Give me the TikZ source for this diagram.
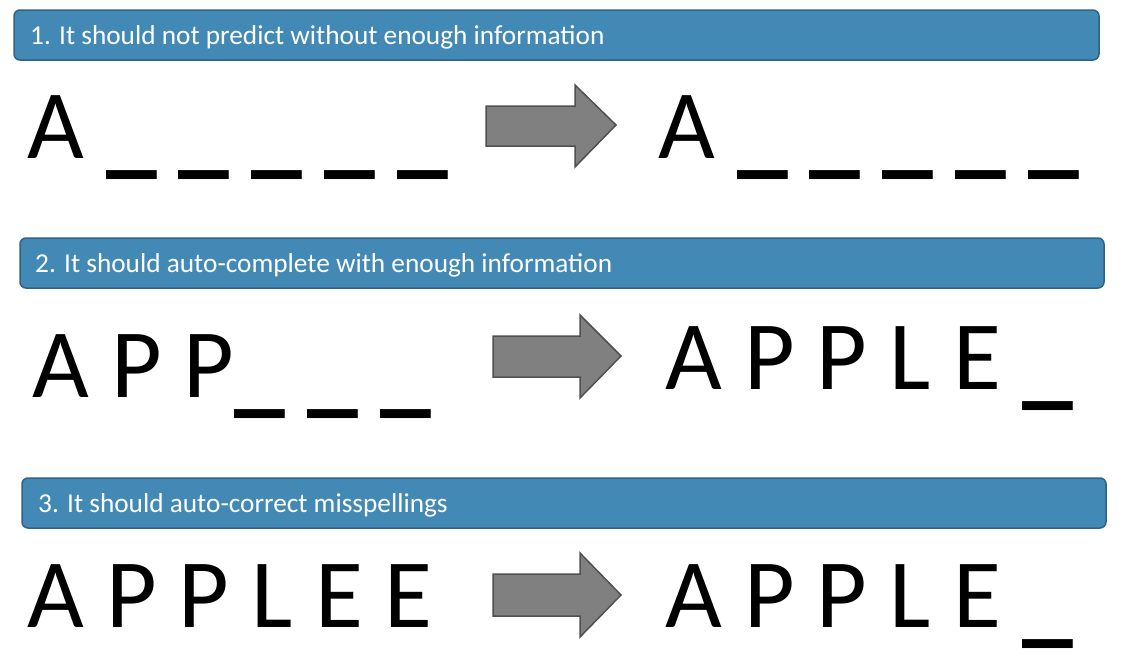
\documentclass[tikz,border=0pt]{standalone}
\usepackage{fontspec}
\usepackage{graphicx}
\setmainfont{Carlito}
\definecolor{bannerfill}{RGB}{66,137,181}
\definecolor{bannerdraw}{RGB}{48,98,132}
\definecolor{arrowfill}{RGB}{128,128,128}
\definecolor{arrowdraw}{RGB}{80,80,80}
\newcommand{\blank}{\scalebox{1.04}[1.6]{\_}}
\tikzset{
  banner/.style={fill=bannerfill, draw=bannerdraw, line width=1.5pt, rounded corners=6pt},
  bannertext/.style={anchor=base west, inner sep=0pt, text=white, font=\fontsize{27.3}{30}\selectfont},
  bigtext/.style={anchor=base west, inner sep=0pt, text=black, font=\fontsize{98}{110}\selectfont},
  blockarrow/.style={fill=arrowfill, draw=arrowdraw, line width=1.5pt, line join=miter},
}
\begin{document}
\begin{tikzpicture}[x=1pt,y=-1pt]
\useasboundingbox (0,0) rectangle (1122,662);
% banners
\draw[banner] (14,10) rectangle (1099,60);
\node[bannertext] (t1) at (30,44) {1. It should not predict without enough information};
\draw[banner] (20,238) rectangle (1104,288);
\node[bannertext] (t2) at (35,272) {2. It should auto-complete with enough information};
\draw[banner] (22,478) rectangle (1106,528);
\node[bannertext] (t3) at (38,512) {3. It should auto-correct misspellings};
% row 1
\node[bigtext] (l1) at (27,158) {A \blank{} \blank{} \blank{} \blank{} \blank};
\node[bigtext] (r1) at (658,158) {A \blank{} \blank{} \blank{} \blank{} \blank};
\draw[blockarrow] (486,106) -- (575,106) -- (575,85) -- (616,125) -- (575,167) -- (575,146) -- (486,146) -- cycle;
% row 2
\node[bigtext] (l2) at (32,397) {A P P\blank{} \blank{} \blank};
\node[bigtext] (r2) at (665,389) {A P P L E \blank};
\draw[blockarrow] (493,336) -- (580,336) -- (580,315) -- (621,356) -- (580,398) -- (580,377) -- (493,377) -- cycle;
% row 3
\node[bigtext] (l3) at (27,627) {A P P L E E};
\node[bigtext] (r3) at (665,627) {A P P L E \blank};
\draw[blockarrow] (493,574) -- (580,574) -- (580,553) -- (621,595) -- (580,637) -- (580,616) -- (493,616) -- cycle;
\end{tikzpicture}
\end{document}
